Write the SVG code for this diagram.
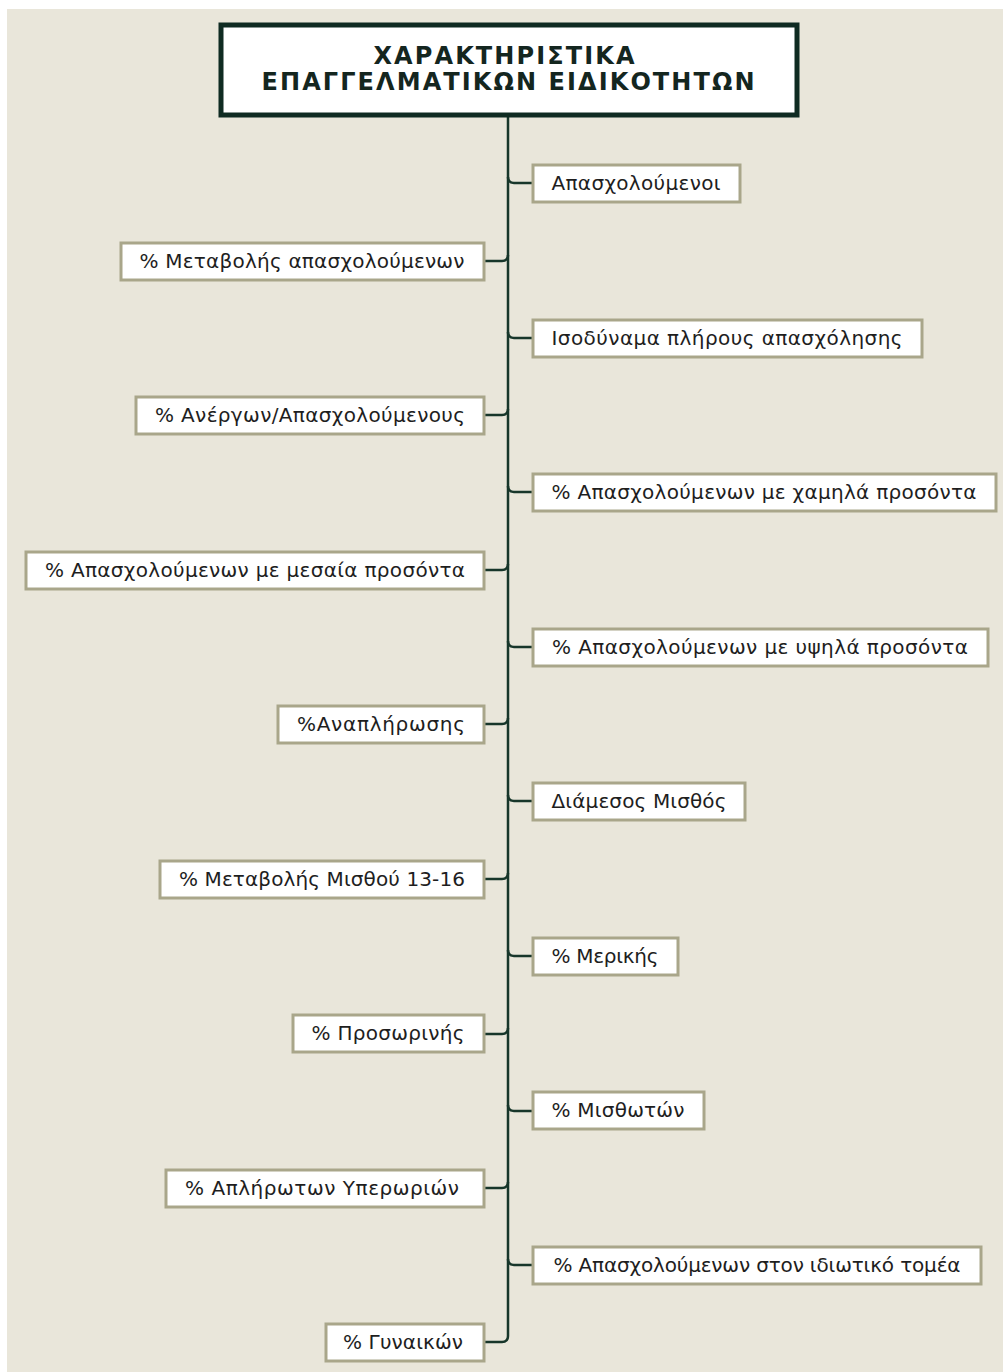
<svg xmlns="http://www.w3.org/2000/svg" width="1003" height="1372" viewBox="0 0 1003 1372">
<style>
.bg{fill:#e9e6da}
.node rect{fill:#ffffff;stroke:#a9a68a;stroke-width:3}
.node text{font-family:"DejaVu Sans","Noto Sans",sans-serif;font-size:20px;fill:#1e1e1e;text-anchor:middle}
.title rect{fill:#ffffff;stroke:#0f2b22;stroke-width:5}
.title text{font-family:"DejaVu Sans","Liberation Sans",sans-serif;font-weight:bold;font-size:24px;fill:#14261f;text-anchor:middle}
.conn path{fill:none;stroke:#17362a;stroke-width:2.5}
</style>
<rect x="0" y="0" width="1003" height="1372" fill="#ffffff"/>
<rect class="bg" x="7" y="9" width="996" height="1363"/>
<g class="conn" id="connectors">
<path d="M508 115 V1336 Q508 1342 502 1342 H484"/>
<path d="M508 177 Q508 183 514 183 H532"/>
<path d="M508 255 Q508 261 502 261 H484"/>
<path d="M508 332 Q508 338 514 338 H532"/>
<path d="M508 409 Q508 415 502 415 H484"/>
<path d="M508 486 Q508 492 514 492 H532"/>
<path d="M508 564 Q508 570 502 570 H484"/>
<path d="M508 641 Q508 647 514 647 H532"/>
<path d="M508 718 Q508 724 502 724 H484"/>
<path d="M508 795 Q508 801 514 801 H532"/>
<path d="M508 873 Q508 879 502 879 H484"/>
<path d="M508 950 Q508 956 514 956 H532"/>
<path d="M508 1028 Q508 1034 502 1034 H484"/>
<path d="M508 1105 Q508 1111 514 1111 H532"/>
<path d="M508 1182 Q508 1188 502 1188 H484"/>
<path d="M508 1259 Q508 1265 514 1265 H532"/>
</g>
<g class="title" id="title">
<rect x="221" y="25" width="576" height="90"/>
<text x="504" y="64" textLength="261">ΧΑΡΑΚΤΗΡΙΣΤΙΚΑ</text>
<text x="508" y="90" textLength="493">ΕΠΑΓΓΕΛΜΑΤΙΚΩΝ ΕΙΔΙΚΟΤΗΤΩΝ</text>
</g>
<g class="node" id="n-r1"><rect x="533" y="165" width="207" height="37"/><text x="636" y="190" textLength="169">Απασχολούμενοι</text></g>
<g class="node" id="n-l1"><rect x="121" y="243" width="363" height="37"/><text x="302" y="268" textLength="325">% Μεταβολής απασχολούμενων</text></g>
<g class="node" id="n-r2"><rect x="533" y="320" width="389" height="37"/><text x="727" y="345" textLength="351">Ισοδύναμα πλήρους απασχόλησης</text></g>
<g class="node" id="n-l2"><rect x="136" y="397" width="348" height="37"/><text x="310" y="422" textLength="310">% Ανέργων/Απασχολούμενους</text></g>
<g class="node" id="n-r3"><rect x="533" y="474" width="463" height="37"/><text x="764" y="499" textLength="425">% Απασχολούμενων με χαμηλά προσόντα</text></g>
<g class="node" id="n-l3"><rect x="26" y="552" width="458" height="37"/><text x="255" y="577" textLength="420">% Απασχολούμενων με μεσαία προσόντα</text></g>
<g class="node" id="n-r4"><rect x="533" y="629" width="455" height="37"/><text x="760" y="654" textLength="416">% Απασχολούμενων με υψηλά προσόντα</text></g>
<g class="node" id="n-l4"><rect x="278" y="706" width="206" height="37"/><text x="381" y="731" textLength="168">%Αναπλήρωσης</text></g>
<g class="node" id="n-r5"><rect x="533" y="783" width="212" height="37"/><text x="639" y="808" textLength="175">Διάμεσος Μισθός</text></g>
<g class="node" id="n-l5"><rect x="160" y="861" width="324" height="37"/><text x="322" y="886" textLength="286">% Μεταβολής Μισθού 13-16</text></g>
<g class="node" id="n-r6"><rect x="533" y="938" width="145" height="37"/><text x="605" y="963" textLength="107">% Μερικής</text></g>
<g class="node" id="n-l6"><rect x="293" y="1015" width="191" height="37"/><text x="388" y="1040" textLength="153">% Προσωρινής</text></g>
<g class="node" id="n-r7"><rect x="533" y="1092" width="171" height="37"/><text x="618" y="1117" textLength="133">% Μισθωτών</text></g>
<g class="node" id="n-l7"><rect x="166" y="1170" width="318" height="37"/><text x="322" y="1195" textLength="274">% Απλήρωτων Υπερωριών</text></g>
<g class="node" id="n-r8"><rect x="533" y="1247" width="448" height="37"/><text x="757" y="1272" textLength="407">% Απασχολούμενων στον ιδιωτικό τομέα</text></g>
<g class="node" id="n-l8"><rect x="326" y="1324" width="158" height="37"/><text x="403" y="1349" textLength="120">% Γυναικών</text></g>
</svg>
